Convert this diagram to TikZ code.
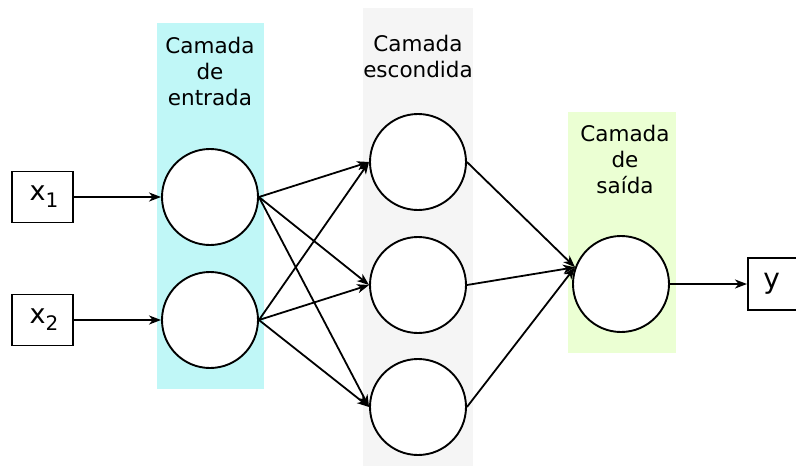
\documentclass[tikz,border=0pt]{standalone}
\usepackage{fontspec}
\setmainfont{DejaVu Sans}
\usetikzlibrary{arrows.meta}
\definecolor{inbg}{HTML}{C0F7F7}
\definecolor{hidbg}{HTML}{F5F5F5}
\definecolor{outbg}{HTML}{EBFFD3}
\tikzset{
  neuron/.style={circle, draw, line width=1.9pt, fill=white, minimum size=96pt, inner sep=0pt},
  iobox/.style={draw, line width=1.5pt, fill=white, inner sep=0pt},
  conn/.style={line width=1.8pt, -{Stealth[length=12pt,width=9pt,inset=3.5pt]}},
  layerlabel/.style={align=center, inner sep=0pt, anchor=north, font=\fontsize{21.5}{26}\selectfont},
  bigtxt/.style={font=\fontsize{26}{30}\selectfont}
}
\begin{document}
\begin{tikzpicture}[x=1pt,y=-1pt]
\useasboundingbox (0,0) rectangle (796,466);
% layer backgrounds
\fill[inbg] (157,23) rectangle (264,389);
\fill[hidbg] (363,8) rectangle (473,466);
\fill[outbg] (568,112) rectangle (676,353);
% labels
\node[layerlabel] (lin) at (210,37) {Camada\\de\\entrada};
\node[layerlabel] (lhid) at (418,35) {Camada\\escondida};
\node[layerlabel] (lout) at (625,125) {Camada\\de\\saída};
% neurons
\node[neuron] (i1) at (210,197) {};
\node[neuron] (i2) at (210,320) {};
\node[neuron] (h1) at (418,162) {};
\node[neuron] (h2) at (418,285) {};
\node[neuron] (h3) at (418,407) {};
\node[neuron] (o) at (621,284) {};
% io boxes
\node[iobox, minimum width=61pt, minimum height=51pt] (x1) at (42.5,197) {\hspace*{3pt}{\fontsize{27}{30}\selectfont x}\raisebox{-7pt}{\fontsize{20}{22}\selectfont 1}};
\node[iobox, minimum width=61pt, minimum height=51pt] (x2) at (42.5,320) {\hspace*{3pt}{\fontsize{27}{30}\selectfont x}\raisebox{-7pt}{\fontsize{20}{22}\selectfont 2}};
\node[iobox, minimum width=50pt, minimum height=52pt, anchor=west] (y) at (747,284) {\hspace*{-2pt}{\fontsize{28}{30}\selectfont y}};
% connectors
\draw[conn] (x1.east) -- (i1.west);
\draw[conn] (x2.east) -- (i2.west);
\foreach \a in {i1,i2}{
  \foreach \b in {h1,h2,h3}{
    \draw[conn] (\a.east) -- (\b.west);
  }
}
\foreach \b in {h1,h2,h3}{
  \draw[conn] (\b.east) -- (o.160);
}
\draw[conn] (o.east) -- (y.west);
\end{tikzpicture}
\end{document}
